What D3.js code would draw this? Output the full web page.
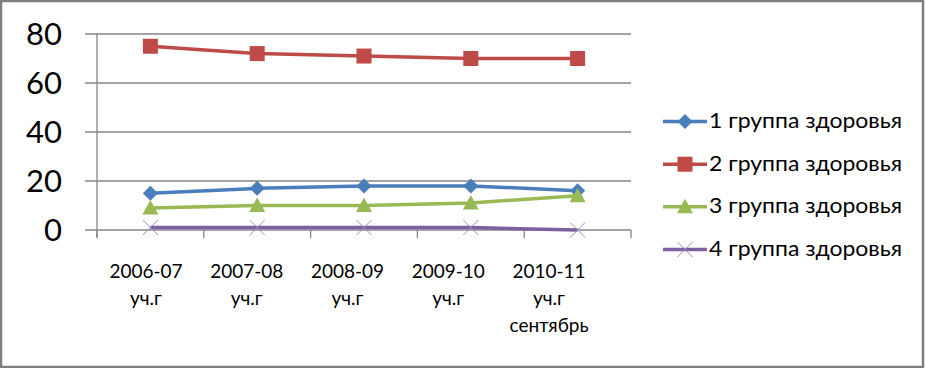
<!DOCTYPE html>
<html><head><meta charset="utf-8">
<script src="https://cdn.jsdelivr.net/npm/d3@7"></script>
<style>body{margin:0;background:#fff}svg{display:block}</style>
</head><body>
<script>
const categories = [["2006-07","уч.г"],["2007-08","уч.г"],["2008-09","уч.г"],["2009-10","уч.г"],["2010-11","уч.г","сентябрь"]];
const seriesNames = ["1 группа здоровья","2 группа здоровья","3 группа здоровья","4 группа здоровья"];
const group1 = [15,17,18,18,16];
const group2 = [75,72,71,70,70];
const group3 = [9,10,10,11,14];
const group4 = [1,1,1,1,0];
const yTicks = [0,20,40,60,80];
const colors = ["#4a7ebb","#be4b48","#98b954","#7d60a0"];
const markers = ["diamond","square","triangle","cross"];
const allSeries = [group1,group2,group3,group4];

const W=925,H=368;
const svg=d3.select("body").append("svg").attr("width",W).attr("height",H);
svg.append("rect").attr("x",1).attr("y",1).attr("width",W-3).attr("height",H-2)
  .attr("fill","#fff").attr("stroke","#7f7f7f").attr("stroke-width",2.5);

const x=d3.scaleBand().domain(d3.range(categories.length)).range([97,631]);
const xLab=d3.scalePoint().domain(d3.range(categories.length)).range([146,549]);
const y=d3.scaleLinear().domain([0,80]).range([230,34]);
const font="Lato, 'Open Sans', sans-serif";

svg.append("g").selectAll("line").data(yTicks).join("line")
  .attr("x1",85).attr("x2",631).attr("y1",d=>y(d)).attr("y2",d=>y(d))
  .attr("stroke","#868686").attr("stroke-width",1.3);
svg.append("line").attr("x1",97).attr("x2",97).attr("y1",y(80)).attr("y2",y(0)+8)
  .attr("stroke","#868686").attr("stroke-width",1.3);
const bounds=d3.range(categories.length+1).map(i=>i<categories.length?x(i):x.range()[1]);
svg.append("g").selectAll("line").data(bounds).join("line")
  .attr("x1",d=>d).attr("x2",d=>d).attr("y1",y(0)).attr("y2",y(0)+8)
  .attr("stroke","#868686").attr("stroke-width",1.3);
svg.append("g").selectAll("text").data(yTicks).join("text")
  .attr("x",62).attr("y",d=>y(d)).attr("dy","0.36em").attr("text-anchor","end")
  .attr("font-family",font).attr("font-size",31).attr("fill","#000").text(d=>d);

categories.forEach((c,i)=>{
  c.forEach((t,j)=>{
    svg.append("text").attr("x",xLab(i)).attr("y",278+27*j).attr("text-anchor","middle")
      .attr("font-family",font).attr("font-size",19).attr("fill","#000").text(t);
  });
});

function drawMarker(g,type,color,cx,cy){
  if(type==="diamond"){
    g.append("path").attr("d",`M${cx},${cy-7.5}L${cx+7.5},${cy}L${cx},${cy+7.5}L${cx-7.5},${cy}Z`).attr("fill",color);
  } else if(type==="square"){
    g.append("rect").attr("x",cx-7.5).attr("y",cy-7.5).attr("width",15).attr("height",15).attr("fill",color);
  } else if(type==="triangle"){
    g.append("path").attr("d",`M${cx},${cy-8}L${cx+8},${cy+6.5}L${cx-8},${cy+6.5}Z`).attr("fill",color);
  } else {
    g.append("path").attr("d",`M${cx-7.5},${cy-7.5}L${cx+7.5},${cy+7.5}M${cx-7.5},${cy+7.5}L${cx+7.5},${cy-7.5}`)
      .attr("stroke","#9f88c4").attr("stroke-width",1).attr("fill","none");
  }
}
const line=d3.line().x((d,i)=>x(i)+x.bandwidth()/2).y(d=>y(d));
allSeries.forEach((s,k)=>{
  const g=svg.append("g");
  g.append("path").datum(s).attr("d",line).attr("fill","none").attr("stroke",colors[k]).attr("stroke-width",3.5);
  s.forEach((v,i)=>drawMarker(g,markers[k],colors[k],x(i)+x.bandwidth()/2,y(v)));
});
const legY=[128,170.7,213.3,256];
seriesNames.forEach((n,k)=>{
  const g=svg.append("g");
  const cy=legY[k]-6.5;
  g.append("line").attr("x1",663).attr("x2",707).attr("y1",cy).attr("y2",cy).attr("stroke",colors[k]).attr("stroke-width",3.5);
  drawMarker(g,markers[k],colors[k],685,cy);
  g.append("text").attr("x",709).attr("y",legY[k]).attr("font-family",font).attr("font-size",20.5).attr("fill","#000")
    .attr("textLength",193).attr("lengthAdjust","spacingAndGlyphs").text(n);
});
</script>
</body></html>
